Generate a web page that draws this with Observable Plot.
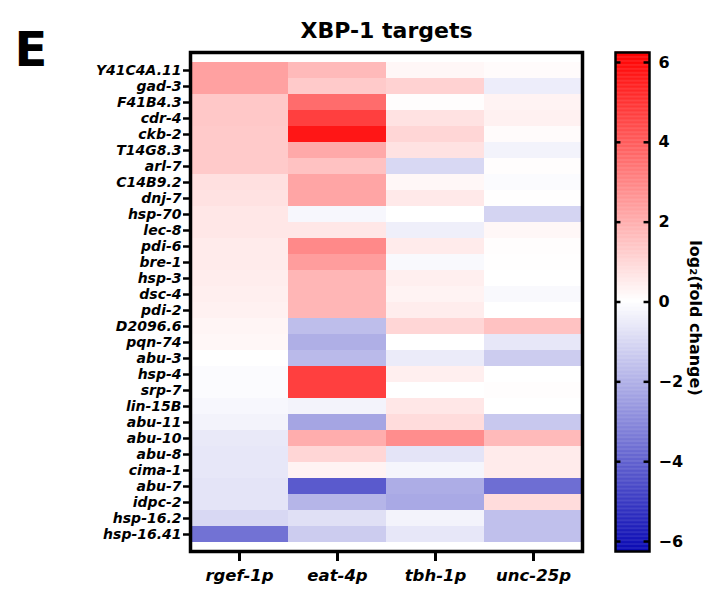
<!DOCTYPE html>
<html>
<head>
<meta charset="utf-8">
<script src="https://cdn.jsdelivr.net/npm/d3@7"></script>
<script src="https://cdn.jsdelivr.net/npm/@observablehq/plot@0.6"></script>
<style>
  html, body { margin: 0; padding: 0; background: #fff; }
  #wrap { position: relative; width: 704px; height: 589px; overflow: hidden; }
  #main { position: absolute; left: 0; top: 0; }
  #bar { position: absolute; left: 590px; top: 0; }
</style>
</head>
<body>
<div id="wrap"><div id="main"></div><div id="bar"></div></div>
<script>
const genes = ["Y41C4A.11","gad-3","F41B4.3","cdr-4","ckb-2","T14G8.3","arl-7","C14B9.2","dnj-7","hsp-70",
  "lec-8","pdi-6","bre-1","hsp-3","dsc-4","pdi-2","D2096.6","pqn-74","abu-3","hsp-4",
  "srp-7","lin-15B","abu-11","abu-10","abu-8","cima-1","abu-7","idpc-2","hsp-16.2","hsp-16.41"];
const columns = ["rgef-1p","eat-4p","tbh-1p","unc-25p"];
const rgef1p = [2.3,2.3,1.35,1.35,1.3,1.3,1.3,0.75,0.7,0.6,0.6,0.5,0.5,0.45,0.4,0.35,0.25,0.2,0,-0.1,-0.1,-0.2,-0.3,-0.55,-0.6,-0.6,-0.7,-0.7,-1.0,-3.6];
const eat4p = [1.7,1.3,3.6,4.7,5.7,2.1,1.5,2.2,2.2,-0.2,0.6,2.9,2.4,1.8,1.8,1.8,-1.65,-2.05,-1.75,4.7,4.7,-0.3,-2.3,2.0,1.0,0.3,-4.2,-1.9,-0.8,-1.3];
const tbh1p = [0.2,1.1,0.05,0.7,1.0,0.7,-1.0,0.2,0.55,0,-0.4,0.5,-0.15,0.4,0.3,0.45,1.0,0,-0.5,0.4,0,0.6,0.85,2.8,-0.7,-0.25,-2.1,-2.2,-0.3,-0.6];
const unc25p = [0.1,-0.45,0.3,0.35,0.1,-0.3,0.05,-0.1,0.02,-1.1,0.2,0.05,0.03,0,-0.15,0,1.5,-0.6,-1.3,0,0.05,0,-1.4,1.7,0.5,0.5,-3.7,0.85,-1.6,-1.6];
const colorTicks = [-6,-4,-2,0,2,4,6];
const colorDomain = [-6.25, 0, 6.25];
const colorRange = ["#0a0ab4", "#ffffff", "#ff0000"];
const title = "XBP-1 targets";
const panel = "E";
const legendLabel = "log\u2082(fold change)";

const series = [rgef1p, eat4p, tbh1p, unc25p];
const data = [];
columns.forEach((c, j) => genes.forEach((g, i) => data.push({col: c, gene: g, value: series[j][i]})));

const colorScale = {type: "linear", domain: colorDomain, range: colorRange, interpolate: "rgb"};
const FONT = "'DejaVu Sans', 'Liberation Sans', sans-serif";

const main = Plot.plot({
  width: 600, height: 589,
  marginLeft: 190, marginRight: 18, marginTop: 52, marginBottom: 38,
  style: {fontFamily: FONT, fontWeight: "bold", fontStyle: "italic", fontSize: "14px", color: "black", background: "white", overflow: "visible"},
  x: {domain: columns, padding: 0, label: null},
  y: {domain: genes, padding: 0, label: null},
  color: colorScale,
  marks: [
    Plot.cell(data, {x: "col", y: "gene", fill: "value", inset: 0}),
    Plot.frame({stroke: "black", strokeWidth: 3.5}),
    Plot.axisY({tickSize: 7, tickPadding: 2, strokeWidth: 2.5, fontSize: 14, label: null}),
    Plot.axisX({tickSize: 10, tickPadding: 8, strokeWidth: 3, fontSize: 16.5, label: null}),
    Plot.text([title], {frameAnchor: "top", lineAnchor: "middle", dy: -22, fontSize: 22, fontWeight: "bold", fontStyle: "normal"}),
    Plot.text([panel], {frameAnchor: "top-left", lineAnchor: "middle", dx: -176, dy: -2, fontSize: 48, fontWeight: "bold", fontStyle: "normal"})
  ]
});
document.getElementById("main").appendChild(main);

const step = 0.02;
const grad = d3.range(-6.25, 6.25, step);
const bar = Plot.plot({
  width: 114, height: 589,
  marginLeft: 25, marginRight: 55, marginTop: 52, marginBottom: 38,
  style: {fontFamily: FONT, fontWeight: "bold", fontSize: "16px", color: "black", background: "white", overflow: "visible"},
  x: {domain: [0, 1], axis: null},
  y: {domain: [-6.25, 6.25], label: null, axis: null},
  color: colorScale,
  marks: [
    Plot.rect(grad, {x1: 0, x2: 1, y1: d => d, y2: d => d + step * 1.5, fill: d => d}),
    Plot.ruleY(colorTicks, {x1: 0, x2: 0.16, strokeWidth: 2.5}),
    Plot.ruleY(colorTicks, {x1: 0.84, x2: 1, strokeWidth: 2.5}),
    Plot.frame({stroke: "black", strokeWidth: 2.5}),
    Plot.axisY(colorTicks, {anchor: "right", tickSize: 0, tickPadding: 9, fontSize: 16, label: null}),
    Plot.text([legendLabel], {frameAnchor: "right", textAnchor: "middle", lineAnchor: "middle", rotate: 90, dx: 46, dy: 16, fontSize: 16, fontWeight: "bold"})
  ]
});
document.getElementById("bar").appendChild(bar);
</script>
</body>
</html>
